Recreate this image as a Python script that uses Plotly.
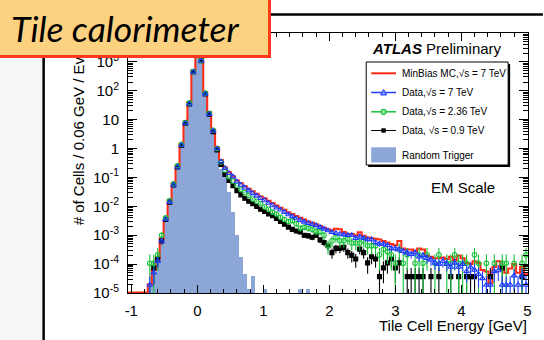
import numpy as np
import plotly.graph_objects as go

# ---------------- data ----------------
BIN_WIDTH = 0.06
bin_centers = np.round(-1.02 + BIN_WIDTH * np.arange(101), 2)   # -1.02 ... 4.98

mc_7tev = [
    0, 0, 0, 0, 0, 2.0e-5, 6.3e-5, 1.6e-4, 7.9e-4, 3.5e-3,                   # -1.02
    1.6e-2, 6.3e-2, 0.25, 1.4, 7.9, 40, 500, 8000, 1700, 89,                # -0.42
    18, 4.5, 1.1, 0.40, 0.22, 0.15, 0.11, 7.9e-2, 6.3e-2, 5.0e-2,            # 0.18
    4.1e-2, 3.3e-2, 2.7e-2, 2.2e-2, 1.9e-2, 1.55e-2, 1.3e-2, 1.07e-2, 8.9e-3, 7.6e-3,  # 0.78
    6.3e-3, 5.4e-3, 4.6e-3, 4.0e-3, 3.5e-3, 3.0e-3, 2.7e-3, 2.4e-3, 2.1e-3, 1.8e-3,    # 1.38
    1.6e-3, 1.5e-3, 1.66e-3, 1.6e-3, 1.3e-3, 1.1e-3, 1.1e-3, 1.0e-3, 1.26e-3, 9.5e-4,  # 1.98
    8.3e-4, 7.9e-4, 7.6e-4, 7.1e-4, 6.3e-4, 5.6e-4, 5.0e-4, 4.5e-4, 6.3e-4, 3.5e-4,    # 2.58
    3.2e-4, 3.2e-4, 2.8e-4, 3.5e-4, 3.2e-4, 2.0e-4, 1.8e-4, 1.6e-4, 1.6e-4, 1.7e-4,    # 3.18
    1.5e-4, 1.8e-4, 1.4e-4, 2.0e-4, 1.6e-4, 1.1e-4, 1.0e-4, 1.26e-4, 1.1e-4, 6.3e-5,   # 3.78
    5.6e-5, 2.2e-5, 7.9e-5, 1.26e-4, 7.9e-5, 5.0e-5, 7.1e-5, 1.0e-4, 5.0e-5, 7.9e-5,   # 4.38
    4.5e-5,                                                                            # 4.98
]

data_7tev = [
    0, 0, 0, 0, 0, 1.9e-5, 5.0e-5, 1.26e-4, 6.3e-4, 3.5e-3,
    1.4e-2, 5.5e-2, 0.23, 1.3, 7.6, 35, 450, 6300, 1100, 78,
    15.5, 4.1, 1.0, 0.35, 0.21, 0.14, 0.107, 7.1e-2, 5.5e-2, 4.4e-2,
    3.5e-2, 2.8e-2, 2.3e-2, 1.9e-2, 1.6e-2, 1.3e-2, 1.07e-2, 8.9e-3, 7.6e-3, 6.3e-3,
    5.2e-3, 4.5e-3, 3.8e-3, 3.3e-3, 2.9e-3, 2.6e-3, 2.4e-3, 2.2e-3, 1.9e-3, 1.66e-3,
    1.45e-3, 1.26e-3, 1.17e-3, 1.1e-3, 1.05e-3, 1.0e-3, 1.0e-3, 7.9e-4, 8.9e-4, 7.9e-4,
    7.1e-4, 7.1e-4, 5.6e-4, 5.0e-4, 5.0e-4, 4.5e-4, 3.5e-4, 3.5e-4, 3.2e-4, 2.8e-4,
    2.5e-4, 2.2e-4, 2.5e-4, 1.8e-4, 2.0e-4, 1.6e-4, 1.4e-4, 1.1e-4, 1.0e-4, 1.26e-4,
    1.0e-4, 7.9e-5, 1.1e-4, 7.9e-5, 1.0e-4, 5.6e-5, 7.9e-5, 6.3e-5, 4.5e-5, 3.2e-5,
    1.9e-5, 1.9e-5, 5.6e-5, 6.0e-5, 1.9e-5, 1.9e-5, 1.9e-5, 4.0e-5, 1.9e-5, 4.0e-5,
    1.9e-5,
]

data_236tev = [
    0, 0, 0, 0, 0, 1.07e-4, 1.07e-4, 2.1e-4, 1.0e-3, 4.0e-3,
    1.6e-2, 6.0e-2, 0.26, 1.4, 7.9, 38, 460, 6300, 1120, 83,
    16.6, 4.3, 1.0, 0.34, 0.18, 0.107, 7.6e-2, 5.4e-2, 3.9e-2, 3.0e-2,
    2.4e-2, 1.8e-2, 1.5e-2, 1.26e-2, 9.5e-3, 7.9e-3, 6.3e-3, 5.4e-3, 4.2e-3, 3.5e-3,
    3.0e-3, 3.2e-3, 2.5e-3, 1.74e-3, 1.9e-3, 1.74e-3, 1.6e-3, 1.35e-3, 1.35e-3, 1.0e-3,
    4.3e-4, 6.4e-4, 8.5e-4, 6.4e-4, 6.4e-4, 7.5e-4, 5.4e-4, 5.4e-4, 5.4e-4, 6.4e-4,
    4.3e-4, 4.3e-4, 4.3e-4, 2.1e-4, 3.2e-4, 2.7e-4, 2.1e-4, 1.07e-4, 3.2e-4, 1.07e-4,
    2.1e-4, 0, 1.07e-4, 2.1e-4, 1.07e-4, 2.1e-4, 0, 1.07e-4, 2.1e-4, 0,
    1.07e-4, 1.07e-4, 2.1e-4, 1.07e-4, 1.07e-4, 1.07e-4, 0, 2.1e-4, 1.07e-4, 0,
    1.07e-4, 0, 1.07e-4, 0, 1.07e-4, 1.07e-4, 0, 1.07e-4, 0, 1.07e-4,
    2.1e-4,
]

data_09tev = [
    0, 0, 0, 0, 0, 0, 7.4e-5, 1.5e-4, 6.3e-4, 3.5e-3,
    1.4e-2, 5.5e-2, 0.23, 1.3, 7.6, 35, 450, 6300, 1100, 78,
    15.5, 3.8, 0.89, 0.28, 0.126, 7.9e-2, 5.2e-2, 3.5e-2, 2.5e-2, 1.9e-2,
    1.5e-2, 1.23e-2, 1.0e-2, 7.9e-3, 6.6e-3, 5.5e-3, 4.7e-3, 3.8e-3, 3.0e-3, 2.4e-3,
    1.9e-3, 1.6e-3, 1.4e-3, 1.3e-3, 1.0e-3, 9.5e-4, 8.5e-4, 1.0e-3, 6.9e-4, 5.6e-4,
    4.3e-4, 2.5e-4, 3.5e-4, 3.5e-4, 3.8e-4, 2.5e-4, 2.0e-4, 1.5e-4, 3.3e-4, 2.5e-4,
    1.1e-4, 1.8e-4, 1.5e-4, 3.7e-5, 7.4e-5, 1.1e-4, 1.5e-4, 7.4e-5, 1.1e-4, 0,
    3.7e-5, 3.7e-5, 3.7e-5, 3.7e-5, 3.7e-5, 0, 3.7e-5, 0, 3.7e-5, 0,
    0, 3.7e-5, 0, 3.7e-5, 0, 3.7e-5, 3.7e-5, 3.7e-5, 0, 0,
    0, 3.7e-5, 0, 0, 7.4e-5, 0, 0, 0, 0, 3.7e-5,
    0,
]

random_trigger = [
    0, 0, 0, 0, 0, 2.0e-5, 5.0e-5, 1.4e-4, 6.3e-4, 3.2e-3,
    1.35e-2, 5.4e-2, 0.22, 1.26, 7.4, 35, 450, 6300, 1070, 76,
    15, 3.5, 0.8, 0.2, 0.1, 3.2e-2, 6.3e-3, 1.0e-3, 1.8e-4, 4.5e-5,
    1.4e-5, 4.0e-5, 0, 0, 1.35e-5, 0, 0, 0, 0, 0,
    0, 0, 0, 1.35e-5, 0, 1.35e-5, 0, 0, 0, 0,
    0, 0, 0, 0, 0, 0, 0, 0, 0, 0,
    0, 0, 0, 0, 0, 0, 0, 0, 0, 0,
    0, 0, 0, 0, 0, 0, 0, 0, 0, 0,
    0, 0, 0, 0, 0, 0, 0, 0, 0, 0,
    0, 0, 0, 0, 0, 0, 0, 0, 0, 0,
    0,
]

# value of one entry per bin (sets the statistical error bars)
ONE_ENTRY = {"7": 1.9e-5, "2.36": 1.07e-4, "0.9": 3.7e-5}

x_ticks = [-1, 0, 1, 2, 3, 4, 5]
x_tick_text = ["-1", "0", "1", "2", "3", "4", "5"]
y_tick_vals = [1e-5, 1e-4, 1e-3, 1e-2, 1e-1, 1, 10, 1e2, 1e3, 1e4]
y_tick_text = ["10<sup>-5</sup>", "10<sup>-4</sup>", "10<sup>-3</sup>", "10<sup>-2</sup>",
               "10<sup>-1</sup>", "1", "10", "10<sup>2</sup>", "10<sup>3</sup>", "10<sup>4</sup>"]

for arr in (mc_7tev, data_7tev, data_236tev, data_09tev, random_trigger):
    assert len(arr) == len(bin_centers)

# ---------------- style / layout constants ----------------
W, H = 544, 340
L, R, T, B = 128, 13, 33, 47
PW, PH = W - L - R, H - T - B
XMIN, XMAX = -1.05, 5.01
YMIN = 1e-5
FONT = "Liberation Sans, Arial, Helvetica, sans-serif"
RED, BLUE, GREEN, BLACK = "#ff2a12", "#1f3cff", "#16c23a", "#000000"
FILL = "#8ca6d8"


def fx(px):
    return (px - L) / PW


def fy(py):
    return 1 - (py - T) / PH


def nz(vals):
    return [v if v > 0 else None for v in vals]


def errors(vals, unit):
    up, down = [], []
    for v in vals:
        if v > 0:
            e = float(np.sqrt(v * unit))
            up.append(e)
            down.append(min(e, 0.9999 * v))
        else:
            up.append(None)
            down.append(None)
    return up, down


fig = go.Figure()

# Random trigger filled histogram
fig.add_trace(go.Bar(x=bin_centers, y=nz(random_trigger), width=BIN_WIDTH,
                     marker=dict(color=FILL, line=dict(width=0)), showlegend=False))

# MC step histogram (empty bins drawn at the axis floor, as ROOT does)
edges = np.round(bin_centers - BIN_WIDTH / 2, 3)
step_x = list(edges) + [round(bin_centers[-1] + BIN_WIDTH / 2, 3)]
mc_plot = [v if v > 0 else YMIN * 1.04 for v in mc_7tev]
step_y = mc_plot + [mc_plot[-1]]
fig.add_trace(go.Scatter(x=step_x, y=step_y, mode="lines", line=dict(color=RED, width=2, shape="hv"),
                         showlegend=False))

for vals, unit, color, symbol, size in [
    (data_09tev, ONE_ENTRY["0.9"], BLACK, "square", 4),
    (data_236tev, ONE_ENTRY["2.36"], GREEN, "circle-open", 4.5),
    (data_7tev, ONE_ENTRY["7"], BLUE, "triangle-up-open", 5),
]:
    up, down = errors(vals, unit)
    fig.add_trace(go.Scatter(
        x=bin_centers, y=nz(vals), mode="markers",
        marker=dict(color=color, symbol=symbol, size=size, line=dict(color=color, width=1.1)),
        error_y=dict(type="data", symmetric=False, array=up, arrayminus=down,
                     color=color, thickness=1.1, width=0),
        showlegend=False))

minor_y = [m * 10.0 ** d for d in range(-5, 4) for m in range(2, 10)]

fig.update_layout(
    width=W, height=H,
    margin=dict(l=L, r=R, t=T, b=B, pad=0),
    paper_bgcolor="white", plot_bgcolor="white",
    bargap=0, showlegend=False,
    font=dict(family=FONT, color="black"),
    xaxis=dict(range=[XMIN, XMAX], tickmode="array", tickvals=x_ticks, ticktext=x_tick_text,
               ticks="inside", ticklen=8, tickwidth=1, tickcolor="black",
               minor=dict(tick0=0, dtick=0.2, ticks="inside", ticklen=4, tickcolor="black"),
               showline=True, linecolor="black", linewidth=1, mirror="allticks",
               showgrid=False, zeroline=False, tickfont=dict(size=15, family=FONT),
               ticklabelstandoff=4),
    yaxis=dict(type="log", range=[-5, 4], tickmode="array", tickvals=y_tick_vals, ticktext=y_tick_text,
               ticks="inside", ticklen=9, tickwidth=1, tickcolor="black",
               minor=dict(tickmode="array", tickvals=minor_y, ticks="inside", ticklen=5, tickcolor="black"),
               showline=True, linecolor="black", linewidth=1, mirror="allticks",
               showgrid=False, zeroline=False, tickfont=dict(size=15, family=FONT),
               ticklabelstandoff=5),
)

shapes = []
# slide background strip at the left and the borders of the pasted picture
shapes.append(dict(type="rect", xref="paper", yref="paper", x0=fx(-2), x1=fx(42), y0=fy(-2), y1=fy(342),
                   fillcolor="#f6f6f6", line=dict(width=0), layer="below"))
shapes.append(dict(type="line", xref="paper", yref="paper", x0=fx(43), x1=fx(43), y0=fy(50), y1=fy(342),
                   line=dict(color="black", width=2.5), layer="above"))
shapes.append(dict(type="line", xref="paper", yref="paper", x0=fx(262), x1=fx(546), y0=fy(14.5), y1=fy(14.5),
                   line=dict(color="black", width=2.5), layer="above"))

# legend box with shadow
LGX0, LGX1, LGY0, LGY1 = 368, 511, 62, 165
shapes.append(dict(type="rect", xref="paper", yref="paper", x0=fx(LGX0 + 2), x1=fx(LGX1 + 2),
                   y0=fy(LGY0 + 2), y1=fy(LGY1 + 2), fillcolor="black", line=dict(width=0), layer="above"))
shapes.append(dict(type="rect", xref="paper", yref="paper", x0=fx(LGX0), x1=fx(LGX1),
                   y0=fy(LGY0), y1=fy(LGY1), fillcolor="white", line=dict(color="black", width=1),
                   layer="above"))
rows = [73.3, 92.5, 111.8, 130.5, 155]
SX0, SX1, SXC = 373, 398, 385.5
for yy, col, w in [(rows[0], RED, 2), (rows[1], BLUE, 1.5), (rows[2], GREEN, 1.5), (rows[3], BLACK, 1)]:
    shapes.append(dict(type="line", xref="paper", yref="paper", x0=fx(SX0), x1=fx(SX1), y0=fy(yy), y1=fy(yy),
                       line=dict(color=col, width=w), layer="above"))
# blue triangle
ty = rows[1]
shapes.append(dict(type="path", xref="paper", yref="paper",
                   path=f"M {fx(SXC - 3)} {fy(ty + 2.5)} L {fx(SXC + 3)} {fy(ty + 2.5)} L {fx(SXC)} {fy(ty - 3)} Z",
                   fillcolor="#7f93ff", line=dict(color=BLUE, width=1), layer="above"))
# green circle
cy = rows[2]
shapes.append(dict(type="circle", xref="paper", yref="paper", x0=fx(SXC - 2.5), x1=fx(SXC + 2.5),
                   y0=fy(cy - 2.5), y1=fy(cy + 2.5), fillcolor="#9ae8a8", line=dict(color=GREEN, width=1.2),
                   layer="above"))
# black square
qy = rows[3]
shapes.append(dict(type="rect", xref="paper", yref="paper", x0=fx(SXC - 2.2), x1=fx(SXC + 2.2),
                   y0=fy(qy - 2.2), y1=fy(qy + 2.2), fillcolor="black", line=dict(width=0), layer="above"))
# random trigger swatch
shapes.append(dict(type="rect", xref="paper", yref="paper", x0=fx(SX0), x1=fx(SX1),
                   y0=fy(147.3), y1=fy(162.5), fillcolor=FILL, line=dict(width=0), layer="above"))
fig.update_layout(shapes=shapes)

ann = []
legend_labels = ["MinBias MC,√s = 7 TeV", "Data,√s = 7 TeV", "Data,√s = 2.36 TeV",
                 "Data, √s = 0.9 TeV", "Random Trigger"]
for yy, txt in zip(rows, legend_labels):
    ann.append(dict(x=fx(402), y=fy(yy), xref="paper", yref="paper", xanchor="left", yanchor="middle",
                    text=txt, showarrow=False, font=dict(size=10, family=FONT, color="black")))
ann.append(dict(x=fx(371.5), y=fy(48), xref="paper", yref="paper", xanchor="left", yanchor="middle",
                text="<b><i>ATLAS</i></b> Preliminary", showarrow=False, font=dict(size=15, family=FONT)))
ann.append(dict(x=fx(431.5), y=fy(187), xref="paper", yref="paper", xanchor="left", yanchor="middle",
                text="EM Scale", showarrow=False, font=dict(size=15, family=FONT)))
ann.append(dict(x=fx(532), y=fy(325.5), xref="paper", yref="paper", xanchor="right", yanchor="middle",
                text="Tile Cell Energy [GeV]", showarrow=False, font=dict(size=15, family=FONT)))
ann.append(dict(x=fx(78), y=fy(227), xref="paper", yref="paper", xanchor="center", yanchor="bottom",
                text="# of Cells / 0.06 GeV / Event", textangle=-90, showarrow=False,
                font=dict(size=15, family=FONT)))
# slide title box (drawn last so it covers the top of the picture)
ann.append(dict(x=fx(-4), y=fy(-4), xref="paper", yref="paper", xanchor="left", yanchor="top",
                text=" ", showarrow=False, width=268, height=56, bgcolor="#fcd281",
                bordercolor="#ff3a1c", borderwidth=3, borderpad=0))
ann.append(dict(x=fx(8), y=fy(28), xref="paper", yref="paper", xanchor="left", yanchor="middle",
                text="<i>Tile calorimeter</i>", showarrow=False,
                font=dict(size=35.5, family="Lato, Open Sans, sans-serif", color="black")))
fig.update_layout(annotations=ann)

fig.write_html("out.html", config={"displayModeBar": False},
               post_script="document.body.style.margin='0';document.body.style.overflow='hidden';")
